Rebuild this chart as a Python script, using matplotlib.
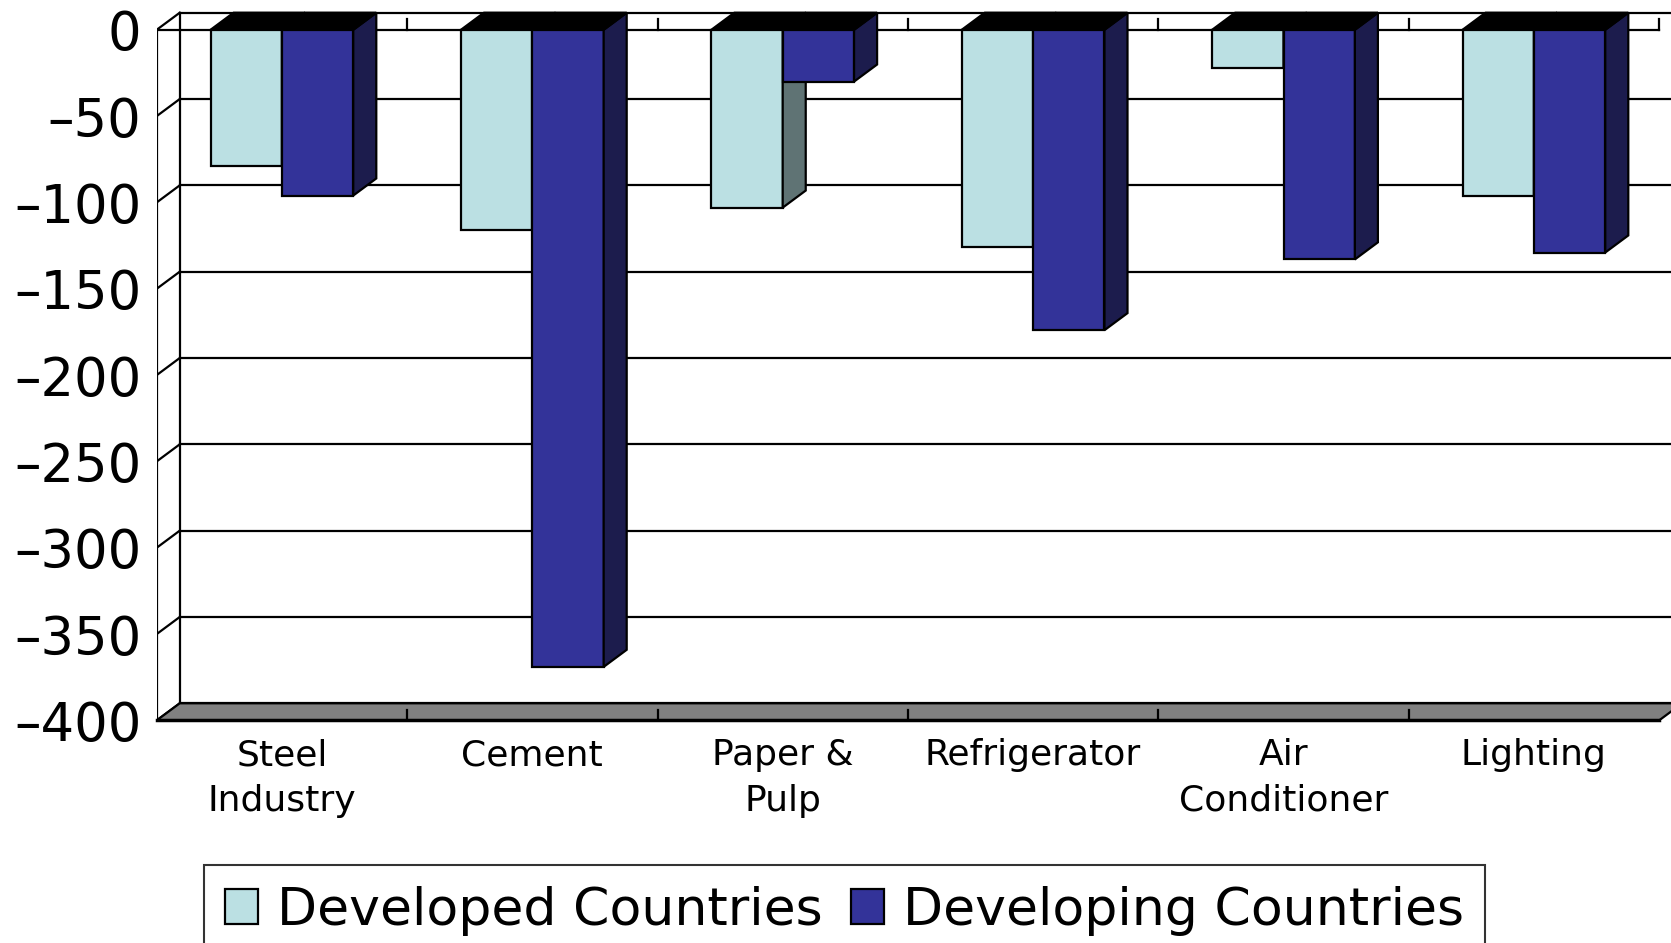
import matplotlib
matplotlib.use("Agg")
import matplotlib.pyplot as plt
from matplotlib.patches import Polygon, Patch

# data
categories = ['Steel\nIndustry', 'Cement', 'Paper &\nPulp', 'Refrigerator',
              'Air\nConditioner', 'Lighting']
developed = [-79, -116, -103, -126, -22, -96]
developing = [-96, -369, -30, -174, -133, -129]
yticks = list(range(-400, 1, 50))
series_names = ['Developed Countries', 'Developing Countries']

c_light, c_light_side = '#BBE0E3', '#5F7374'
c_dark, c_dark_side = '#333399', '#1C1C4D'

plt.rcParams['font.family'] = ['DejaVu Sans']

W, H = 1671, 943
fig = plt.figure(figsize=(W / 100, H / 100), dpi=100)

# pixel layout of the front plane
x0_px = 156.7          # front value axis
zero_px = 29.8         # front y=0
ppu = 1.7265           # px per value unit
cat_px = 250.4         # px per category
ytop = 12
bot_px = zero_px + 400 * ppu
top_px = zero_px - ytop * ppu
ax = fig.add_axes([x0_px / W, 1 - bot_px / H, 1 - x0_px / W, (bot_px - top_px) / H])
ax.set_xlim(0, (W - x0_px) / cat_px)
ax.set_ylim(-400, ytop)
for s in ax.spines.values():
    s.set_visible(False)

dx, dy = 0.092, 9.9    # depth offset
n = len(categories)
lw = 1.6

# back wall + left wall gridlines
for v in yticks:
    ax.plot([dx, n + dx + 1], [v + dy, v + dy], color='black', lw=lw, zorder=1)
    ax.plot([0, dx], [v, v + dy], color='black', lw=lw, zorder=1)
ax.plot([dx, dx], [-400 + dy, dy], color='black', lw=lw, zorder=1)
ax.plot([0, 0], [-400, 0], color='black', lw=lw, zorder=1)

# floor
ax.add_patch(Polygon([(0, -400), (n, -400), (n + dx, -400 + dy), (dx, -400 + dy)],
                     closed=True, facecolor='#808080', edgecolor='black', lw=lw, zorder=2))
ax.plot([0, n], [-400, -400], color='black', lw=2.5, zorder=2, clip_on=False)
for i in range(1, n):
    ax.plot([i, i], [-400, -400 + 6], color='black', lw=lw, zorder=2)

# category axis at zero
ax.plot([0, n], [0, 0], color='black', lw=lw, zorder=2)
for i in range(1, n + 1):
    ax.plot([i, i], [0, 6], color='black', lw=lw, zorder=2)

# bars
bw = 0.285
z = 3
for i in range(n):
    for j, (vals, cf, cs) in enumerate([(developed, c_light, c_light_side),
                                         (developing, c_dark, c_dark_side)]):
        xl = i + 0.215 + j * bw
        xr = xl + bw
        v = vals[i]
        ax.bar(xl, v, width=bw, align='edge', color=cf, edgecolor='black', lw=lw, zorder=z)
        ax.add_patch(Polygon([(xr, 0), (xr + dx, dy), (xr + dx, v + dy), (xr, v)],
                             closed=True, facecolor=cs, edgecolor='black', lw=lw, zorder=z))
        ax.add_patch(Polygon([(xl, 0), (xr, 0), (xr + dx, dy), (xl + dx, dy)],
                             closed=True, facecolor='black', edgecolor='black', lw=lw, zorder=z))
        z += 1

ax.set_yticks(yticks)
ax.set_yticklabels([str(t).replace('-', '\u2013') for t in yticks], fontsize=38)
ax.set_xticks([i + 0.5 for i in range(n)])
ax.set_xticklabels(categories, fontsize=26, linespacing=1.42)
ax.tick_params(axis='y', length=0, pad=11)
ax.tick_params(axis='x', length=0, pad=13)

handles = [Patch(facecolor=c_light, edgecolor='black', lw=lw),
           Patch(facecolor=c_dark, edgecolor='black', lw=lw)]
leg = fig.legend(handles, series_names, loc='upper left',
                 bbox_to_anchor=(204 / W, 1 - 865 / H), ncol=2, fontsize=37.5,
                 frameon=True, fancybox=False, edgecolor='black',
                 handlelength=0.63, handleheight=0.63, handletextpad=0.37,
                 columnspacing=0.55, borderpad=0.4, borderaxespad=0)
leg.get_frame().set_linewidth(1.5)

fig.savefig('out.png', dpi=100)
